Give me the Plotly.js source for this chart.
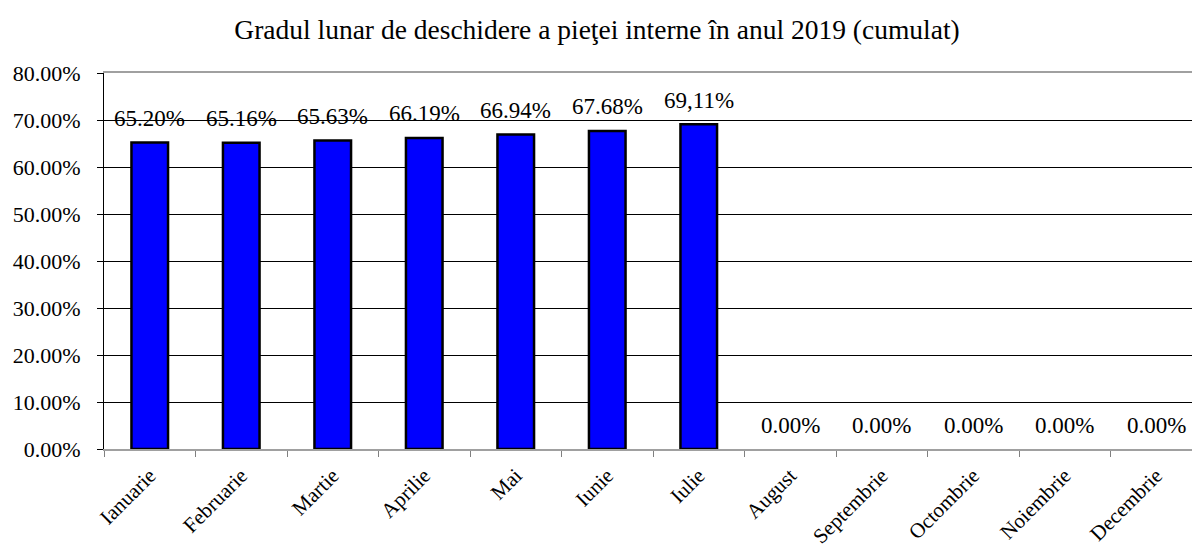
<!DOCTYPE html>
<html>
<head>
<meta charset="utf-8">
<script src="https://cdn.plot.ly/plotly-3.0.1.min.js"></script>
<style>html,body{margin:0;padding:0;overflow:hidden;background:#fff;}</style>
</head>
<body>
<div id="chart"></div>
<script>
const months = ["Ianuarie","Februarie","Martie","Aprilie","Mai","Iunie","Iulie","August","Septembrie","Octombrie","Noiembrie","Decembrie"];
const values = [65.20, 65.16, 65.63, 66.19, 66.94, 67.68, 69.11, 0, 0, 0, 0, 0];
const labels = ["65.20%","65.16%","65.63%","66.19%","66.94%","67.68%","69,11%","0.00%","0.00%","0.00%","0.00%","0.00%"];
const yTicks = [0,10,20,30,40,50,60,70,80];
const yTickText = ["0.00%","10.00%","20.00%","30.00%","40.00%","50.00%","60.00%","70.00%","80.00%"];

const serif = "'Liberation Serif', 'Times New Roman', Times, serif";

const trace = {
  type: "bar",
  x: months,
  y: values,
  width: 0.4,
  marker: {color: "#0000FF", line: {color: "#000000", width: values.map(v => v > 0 ? 2.5 : 0)}},
  hoverinfo: "skip"
};

const annotations = months.map((m, i) => ({
  x: m, y: values[i], xref: "x", yref: "y",
  text: labels[i], showarrow: false,
  yanchor: "middle", yshift: 24,
  font: {family: serif, size: 23, color: "#000"}
}));

const layout = {
  width: 1202, height: 554,
  margin: {l: 104, r: 0, t: 73, b: 105},
  paper_bgcolor: "#fff", plot_bgcolor: "#fff",
  showlegend: false,
  font: {family: serif, size: 22, color: "#000"},
  title: {
    text: "Gradul lunar de deschidere a pieţei interne în anul 2019 (cumulat)",
    font: {family: serif, size: 27.5, color: "#000"},
    x: 597/1202, xref: "container", xanchor: "center",
    y: 1 - 29/554, yref: "container", yanchor: "middle"
  },
  xaxis: {
    type: "category",
    range: [-0.5, 11.5],
    tickson: "boundaries",
    ticks: "outside", ticklen: 6, tickcolor: "#808080", tickwidth: 1,
    tickangle: -45,
    ticklabelstandoff: 4,
    tickfont: {family: serif, size: 21, color: "#000"},
    showline: true, linecolor: "#a0a0a0", linewidth: 2, mirror: true,
    showgrid: false, fixedrange: true
  },
  yaxis: {
    range: [0, 80],
    tickmode: "array",
    tickvals: yTicks,
    ticktext: yTickText,
    ticks: "outside", ticklen: 6, tickcolor: "#000", tickwidth: 1,
    ticklabelstandoff: 12,
    tickfont: {family: serif, size: 22, color: "#000"},
    showline: true, linecolor: "#000", linewidth: 1,
    showgrid: true, gridcolor: "#000", gridwidth: 1,
    zeroline: false, fixedrange: true
  },
  annotations: annotations
};

Plotly.newPlot("chart", [trace], layout, {displayModeBar: false, staticPlot: true});
</script>
</body>
</html>
